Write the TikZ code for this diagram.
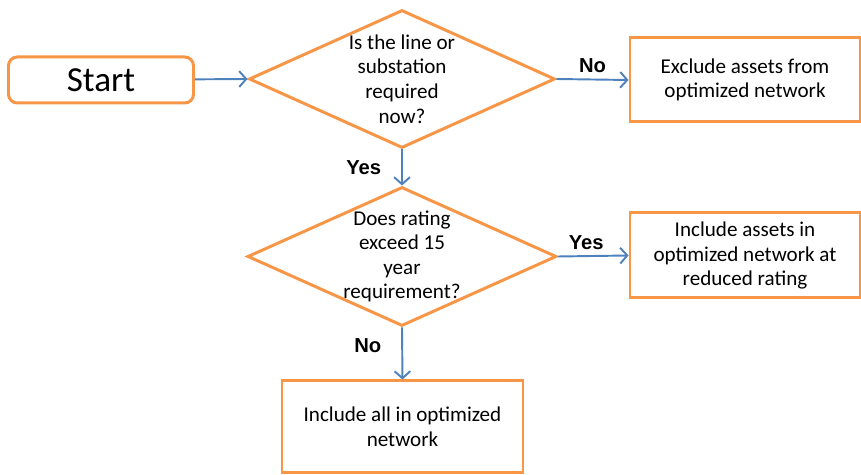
\documentclass[tikz,border=0pt]{standalone}
\usepackage{fontspec}
\setmainfont{Carlito}
\newfontfamily\labelfont{Liberation Sans}
\usetikzlibrary{shapes.geometric,arrows.meta}
\definecolor{boxorange}{HTML}{F79646}
\definecolor{flowblue}{HTML}{4F81BD}
\tikzset{
	stepnode/.style={draw=boxorange, line width=1.7pt, fill=white, align=center, font=\fontsize{12}{14}\selectfont},
	startnode/.style={stepnode, rounded corners=5pt, minimum width=3.7cm, minimum height=0.92cm, font=\fontsize{20}{22}\selectfont},
	actionnode/.style={stepnode, minimum width=4.6cm, minimum height=1.68cm},
	decisionnode/.style={stepnode, diamond, shape aspect=2.2, inner sep=-3pt, minimum width=6.12cm, minimum height=2.76cm},
	flow/.style={draw=flowblue, line width=1.1pt, -{Straight Barb[length=4pt,width=9pt]}},
	answer/.style={font=\labelfont\bfseries\fontsize{11.5}{13}\selectfont, text=black}
}
\begin{document}
\begin{tikzpicture}
	\useasboundingbox (0, 0) rectangle (17.22, 9.5);
	% Nodes:
	\node[startnode](Start) at (2.02, 7.9){Start};
	\node[decisionnode](Required) at (8.04, 7.92){Is the line or\\substation\\required\\now?};
	\node[actionnode](Exclude) at (14.9, 7.9){Exclude assets from\\optimized network};
	\node[decisionnode, minimum width=6.18cm, minimum height=2.78cm](Rating) at (8.04, 4.37){Does rating\\exceed 15\\year\\requirement?};
	\node[actionnode, minimum height=1.7cm](Reduced) at (14.9, 4.39){Include assets in\\optimized network at\\reduced rating};
	\node[actionnode, minimum width=4.82cm, minimum height=1.84cm](IncludeAll) at (8.05, 0.96){Include all in optimized\\network};
	% Connectors:
	\draw[flow] (Start) -- (Required.west);
	\draw[flow] (Required.east) -- node[answer, above, pos=0.5]{No} (Exclude.west);
	\draw[flow] (Required.south) -- node[answer, left=8pt, pos=0.5]{Yes} (Rating.north);
	\draw[flow] (Rating.east) -- node[answer, above, pos=0.4]{Yes} (Reduced.west);
	\draw[flow] (Rating.south) -- node[answer, left=8pt, pos=0.35]{No} (IncludeAll.north);
\end{tikzpicture}
\end{document}
